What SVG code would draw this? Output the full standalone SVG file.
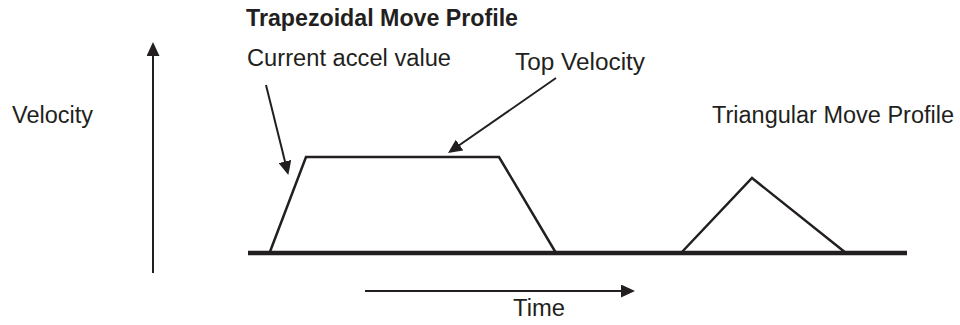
<svg xmlns="http://www.w3.org/2000/svg" width="960" height="325" viewBox="0 0 960 325">
  <defs>
    <style>
      .t { font-family: "Liberation Sans", Arial, sans-serif; font-size: 23px; fill: #231f20; }
      .b { font-weight: bold; }
      .ln { stroke: #231f20; fill: none; stroke-width: 2; }
      .prof { stroke: #231f20; fill: none; stroke-width: 2.5; stroke-linejoin: miter; }
      .base { stroke: #231f20; stroke-width: 4.5; }
    </style>
    <marker id="ah" markerUnits="userSpaceOnUse" markerWidth="14" markerHeight="13" refX="11" refY="6.5" orient="auto">
      <path d="M0,0 L14,6.5 L0,13 Z" fill="#231f20"/>
    </marker>
  </defs>
  <rect width="960" height="325" fill="#ffffff"/>

  <g id="title">
    <text class="t b" x="246" y="26" textLength="272" lengthAdjust="spacingAndGlyphs">Trapezoidal Move Profile</text>
  </g>
  <g id="label-velocity">
    <text class="t" x="12" y="123" textLength="81" lengthAdjust="spacingAndGlyphs">Velocity</text>
  </g>
  <g id="label-accel">
    <text class="t" x="247" y="66" textLength="204" lengthAdjust="spacingAndGlyphs">Current accel value</text>
  </g>
  <g id="label-top">
    <text class="t" x="515" y="70" textLength="130" lengthAdjust="spacingAndGlyphs">Top Velocity</text>
  </g>
  <g id="label-triangular">
    <text class="t" x="712" y="123" textLength="242" lengthAdjust="spacingAndGlyphs">Triangular Move Profile</text>
  </g>
  <g id="label-time">
    <text class="t" x="513" y="316" textLength="52" lengthAdjust="spacingAndGlyphs">Time</text>
  </g>

  <g id="baseline">
    <line class="base" x1="248" y1="253" x2="907" y2="253"/>
  </g>
  <g id="trapezoid">
    <polyline class="prof" points="269.5,253 306,157 499,157 556,253"/>
  </g>
  <g id="triangle">
    <polyline class="prof" points="681,253 752,178 846,253"/>
  </g>

  <g id="connectors">
    <line class="ln" x1="153" y1="273" x2="153" y2="45" marker-end="url(#ah)"/>
    <line class="ln" x1="365" y1="291" x2="632" y2="291" marker-end="url(#ah)"/>
    <line class="ln" x1="266" y1="85" x2="287.6" y2="172.1" marker-end="url(#ah)"/>
    <line class="ln" x1="556" y1="78" x2="450.5" y2="151.3" marker-end="url(#ah)"/>
  </g>
</svg>
